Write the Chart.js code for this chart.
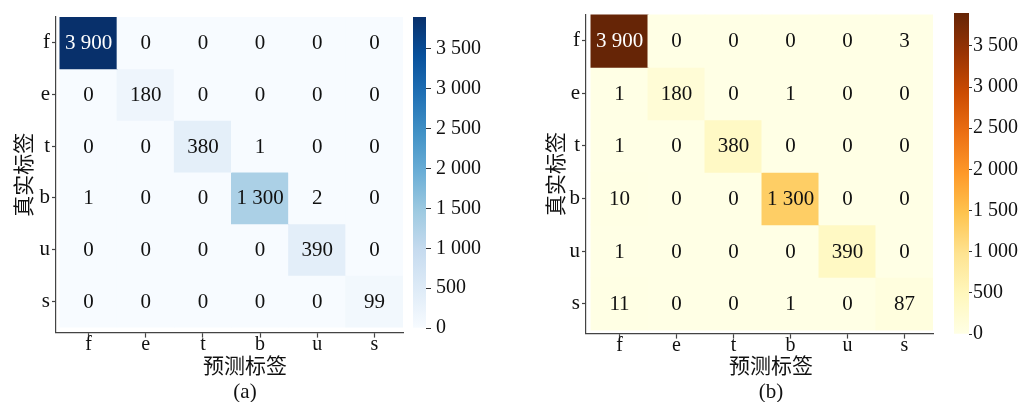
<!DOCTYPE html>
<html>
<head>
<meta charset="utf-8">
<script src="https://cdn.jsdelivr.net/npm/chart.js@4.4.0/dist/chart.umd.min.js"></script>
<style>
html, body { margin: 0; padding: 0; background: #fff; overflow: hidden; }
#page { position: relative; width: 1022px; height: 402px; }
.box { position: absolute; top: 0; }
</style>
</head>
<body>
<div id="page">
  <div class="box" style="left:0;width:490px;height:405px"><canvas id="hm-a"></canvas></div>
  <div class="box" style="left:410px;width:100px;height:402px"><canvas id="cb-a"></canvas></div>
  <div class="box" style="left:530px;width:482px;height:405px"><canvas id="hm-b"></canvas></div>
  <div class="box" style="left:950px;width:72px;height:402px"><canvas id="cb-b"></canvas></div>
</div>
<script>
// class names, same order for true (rows) and predicted (columns)
const classes = ['f', 'e', 't', 'b', 'u', 's'];

// confusion matrix (a)
const countsA = [
    [3900, 0, 0, 0, 0, 0],
    [0, 180, 0, 0, 0, 0],
    [0, 0, 380, 1, 0, 0],
    [1, 0, 0, 1300, 2, 0],
    [0, 0, 0, 0, 390, 0],
    [0, 0, 0, 0, 0, 99]
];

// confusion matrix (b)
const countsB = [
    [3900, 0, 0, 0, 0, 3],
    [1, 180, 0, 1, 0, 0],
    [1, 0, 380, 0, 0, 0],
    [10, 0, 0, 1300, 0, 0],
    [1, 0, 0, 0, 390, 0],
    [11, 0, 0, 1, 0, 87]
];

const colorbarTicks = [0, 500, 1000, 1500, 2000, 2500, 3000, 3500];

// colour maps
const blues = ['#f7fbff', '#deebf7', '#c6dbef', '#9ecae1', '#6baed6', '#4292c6', '#2171b5', '#08519c', '#08306b'];
const ylOrBr = ['#ffffe5', '#fff7bc', '#fee391', '#fec44f', '#fe9929', '#ec7014', '#cc4c02', '#993404', '#662506'];

const serif = '"Liberation Serif", "Times New Roman", serif';
const cjk = '"Liberation Serif", "Noto Sans CJK SC", serif';

Chart.defaults.animation = false;
Chart.defaults.font.family = serif;
Chart.defaults.color = '#111';

function hexRgb(h) {
    return [1, 3, 5].map(i => parseInt(h.substr(i, 2), 16));
}

function cmap(stops, t) {
    t = Math.max(0, Math.min(1, t));
    const p = t * (stops.length - 1);
    const i = Math.min(Math.floor(p), stops.length - 2);
    const f = p - i;
    const a = hexRgb(stops[i]), b = hexRgb(stops[i + 1]);
    return a.map((v, k) => Math.round(v + (b[k] - v) * f));
}

function luminance(rgb) {
    const c = rgb.map(v => {
        v = v / 255;
        return v <= 0.03928 ? v / 12.92 : Math.pow((v + 0.055) / 1.055, 2.4);
    });
    return 0.2126 * c[0] + 0.7152 * c[1] + 0.0722 * c[2];
}

function fmt(v) {
    if (v < 1000) return String(v);
    return Math.floor(v / 1000) + ' ' + String(v % 1000).padStart(3, '0');
}

// writes the count in the middle of every cell
const cellText = {
    id: 'cellText',
    afterDatasetsDraw(chart, args, opts) {
        const c = chart.ctx;
        c.save();
        c.font = '21px ' + serif;
        c.textAlign = 'center';
        c.textBaseline = 'middle';
        chart.data.datasets.forEach((ds, i) => {
            chart.getDatasetMeta(i).data.forEach((bar, j) => {
                const v = opts.counts[i][j];
                const rgb = cmap(opts.stops, v / opts.vmax);
                c.fillStyle = luminance(rgb) > 0.408 ? '#111' : '#fff';
                const p = bar.getCenterPoint();
                c.fillText(fmt(v), p.x, p.y + 1);
            });
        });
        c.restore();
    }
};

function heatmap(id, counts, stops, o) {
    const vmax = Math.max(...counts.flat());
    const datasets = counts.map((row, i) => ({
        data: row.map((v, j) => ({ x: j + 0.5, y: [i, i + 1] })),
        backgroundColor: row.map(v => 'rgb(' + cmap(stops, v / vmax).join(',') + ')'),
        grouped: false,
        categoryPercentage: 1,
        barPercentage: 1,
        inflateAmount: 0.5,
        borderWidth: 0
    }));
    const centres = classes.map((c, i) => i + 0.5);
    new Chart(document.getElementById(id), {
        type: 'bar',
        data: { datasets: datasets },
        options: {
            responsive: true,
            maintainAspectRatio: false,
            layout: { padding: { left: 0, top: o.top, right: 0, bottom: 0 } },
            scales: {
                x: {
                    type: 'linear',
                    offset: false,
                    min: o.xmin,
                    max: 6,
                    afterBuildTicks: s => { s.ticks = centres.map(v => ({ value: v })); },
                    afterFit: s => { s.height = o.xh; },
                    ticks: {
                        callback: (v, i) => classes[i],
                        autoSkip: false,
                        maxRotation: 0,
                        padding: -5,
                        font: { size: 20 }
                    },
                    grid: { offset: false, drawOnChartArea: false, tickLength: 5, color: '#444', tickWidth: 1.2 },
                    border: { display: true, color: '#444', width: 1.2 }
                },
                y: {
                    type: 'linear',
                    reverse: true,
                    min: 0,
                    max: o.ymax,
                    afterBuildTicks: s => { s.ticks = centres.map(v => ({ value: v })); },
                    afterFit: s => { s.width = 56; },
                    ticks: {
                        callback: (v, i) => classes[i],
                        autoSkip: false,
                        padding: 2,
                        font: { size: 21 }
                    },
                    grid: { drawOnChartArea: false, tickLength: 4, color: '#444', tickWidth: 1.2 },
                    border: { display: true, color: '#444', width: 1.2 },
                    title: {
                        display: true,
                        text: '真实标签',
                        font: { size: 21, family: cjk },
                        padding: { top: o.ytitle, bottom: 0 }
                    }
                },
                // empty strip on the right, leaves room for the colour bar
                gap: {
                    type: 'linear',
                    position: 'right',
                    afterFit: s => { s.width = o.right; },
                    ticks: { display: false },
                    grid: { display: false },
                    border: { display: false }
                }
            },
            plugins: {
                legend: { display: false },
                tooltip: { enabled: false },
                title: {
                    display: true,
                    position: 'bottom',
                    text: ['预测标签', o.caption],
                    font: { size: 21, weight: 'normal', family: cjk, lineHeight: 1.2 },
                    padding: { top: -18, bottom: 0 },
                    color: '#111'
                },
                cellText: { counts: counts, stops: stops, vmax: vmax }
            }
        },
        plugins: [cellText]
    });
}

function colorbar(id, counts, stops, o) {
    const vmax = Math.max(...counts.flat());
    new Chart(document.getElementById(id), {
        type: 'bar',
        data: {
            labels: ['scale'],
            datasets: [{
                data: [[0, vmax]],
                backgroundColor: function (ctx) {
                    const chart = ctx.chart;
                    if (!chart.chartArea) return stops[0];
                    const y = chart.scales.y;
                    const g = chart.ctx.createLinearGradient(0, y.getPixelForValue(0), 0, y.getPixelForValue(vmax));
                    stops.forEach((c, k) => g.addColorStop(k / (stops.length - 1), c));
                    return g;
                },
                categoryPercentage: 1,
                barPercentage: 1,
                borderWidth: 0
            }]
        },
        options: {
            responsive: true,
            maintainAspectRatio: false,
            layout: { padding: { left: o.left, top: o.top, right: 0, bottom: o.bottom } },
            scales: {
                x: { display: false },
                y: {
                    position: 'right',
                    min: 0,
                    max: vmax,
                    afterBuildTicks: s => { s.ticks = colorbarTicks.map(v => ({ value: v })); },
                    afterFit: s => { s.width = o.axisW; },
                    ticks: { callback: v => fmt(v), padding: o.pad, font: { size: 20 } },
                    grid: { drawOnChartArea: false, tickLength: o.tick, color: '#333' },
                    border: { display: false }
                }
            },
            plugins: {
                legend: { display: false },
                tooltip: { enabled: false }
            }
        }
    });
}

heatmap('hm-a', countsA, blues, { top: 17, right: 87, xmin: -0.07, ymax: 6.108, xh: 40, ytitle: 13, caption: '(a)' });
colorbar('cb-a', countsA, blues, { left: 3, top: 17, bottom: 74, axisW: 84, pad: 5, tick: 5 });
heatmap('hm-b', countsB, ylOrBr, { top: 13, right: 79, xmin: -0.088, ymax: 6.07, xh: 39, ytitle: 15, caption: '(b)' });
colorbar('cb-b', countsB, ylOrBr, { left: 4, top: 13, bottom: 68, axisW: 53, pad: 1, tick: 3 });
</script>
</body>
</html>
